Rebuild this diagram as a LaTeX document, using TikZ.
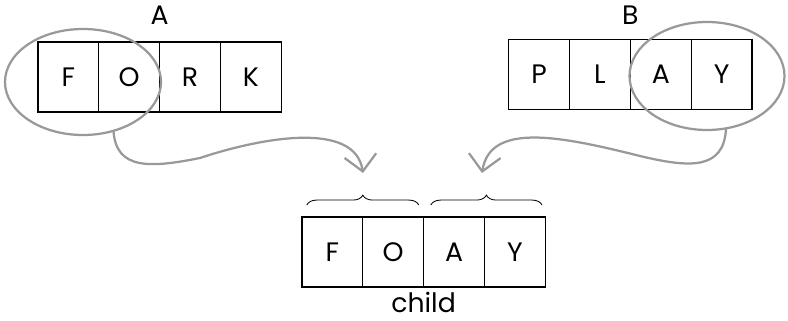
\documentclass[tikz,border=0pt]{standalone}
\usepackage{fontspec}
\setmainfont{Poppins}
\usetikzlibrary{positioning, calc, shapes.geometric, arrows.meta, decorations.pathreplacing}

\begin{document}
\begin{tikzpicture}[thick, every node/.style={inner sep=2pt},
    cell/.style={draw, line width=0.9pt, rectangle, minimum width=1.52cm, minimum height=1.75cm, outer sep=0pt, font=\fontsize{19}{22}\selectfont},
    pick/.style={draw=black!40, line width=1.6pt, ellipse, outer sep=0pt},
    carry/.style={draw=black!40, line width=1.6pt, -{Straight Barb[length=4mm, width=8mm]}},
    part/.style={draw, line width=0.6pt, decorate, decoration={brace, amplitude=7pt}},
    tag/.style={font=\fontsize{19}{22}\selectfont}]
    \useasboundingbox (0,0) rectangle (19.7,8);

    % Parent A (x=1.71, y=6.08)
    \node[cell] (aF) at (1.71, 6.075) {F};
    \node[cell, right=0pt of aF] (aO) {O};
    \node[cell, right=0pt of aO] (aR) {R};
    \node[cell, right=0pt of aR] (aK) {K};
    \node[tag, above=0.35cm of aO.north east] (labA) {A};

    % Parent B (x=13.48, y=6.14)
    \node[cell] (bP) at (13.48, 6.1375) {P};
    \node[cell, right=0pt of bP] (bL) {L};
    \node[cell, right=0pt of bL] (bA) {A};
    \node[cell, right=0pt of bA] (bY) {Y};
    \node[tag, above=0.28cm of bL.north east] (labB) {B};

    % Child (x=8.31, y=1.7)
    \node[cell] (cF) at (8.31, 1.7) {F};
    \node[cell, right=0pt of cF] (cO) {O};
    \node[cell, right=0pt of cO] (cA) {A};
    \node[cell, right=0pt of cA] (cY) {Y};
    \node[tag, inner sep=0pt, text depth=0pt, below=0.12cm of cO.south east] (labC) {child};

    % Picked parts
    \node[pick, minimum width=3.9cm, minimum height=2.65cm] (selA) at (2.075, 5.95) {};
    \node[pick, minimum width=3.875cm, minimum height=2.7cm] (selB) at (17.675, 6.1) {};

    % Braces
    \draw[part] ($(cF.north west)+(0.12,0.3)$) -- ($(cO.north east)+(-0.12,0.3)$);
    \draw[part] ($(cA.north west)+(0.18,0.3)$) -- ($(cY.north east)+(-0.08,0.3)$);

    % Arrows
    \coordinate (inA) at (9.075, 3.675);
    \coordinate (inB) at (12.05, 3.675);
    \draw[carry] (selA.-58) .. controls (2.9, 3.75) and (3.75, 3.8) .. (5.0, 4.05)
        .. controls (6.5, 4.55) and (8.875, 5.0) .. (inA);
    \draw[carry] (selB.-70) .. controls (18.1, 3.75) and (17.25, 3.8) .. (16.0, 4.1)
        .. controls (14.0, 4.6) and (12.25, 4.95) .. (inB);
\end{tikzpicture}
\end{document}
